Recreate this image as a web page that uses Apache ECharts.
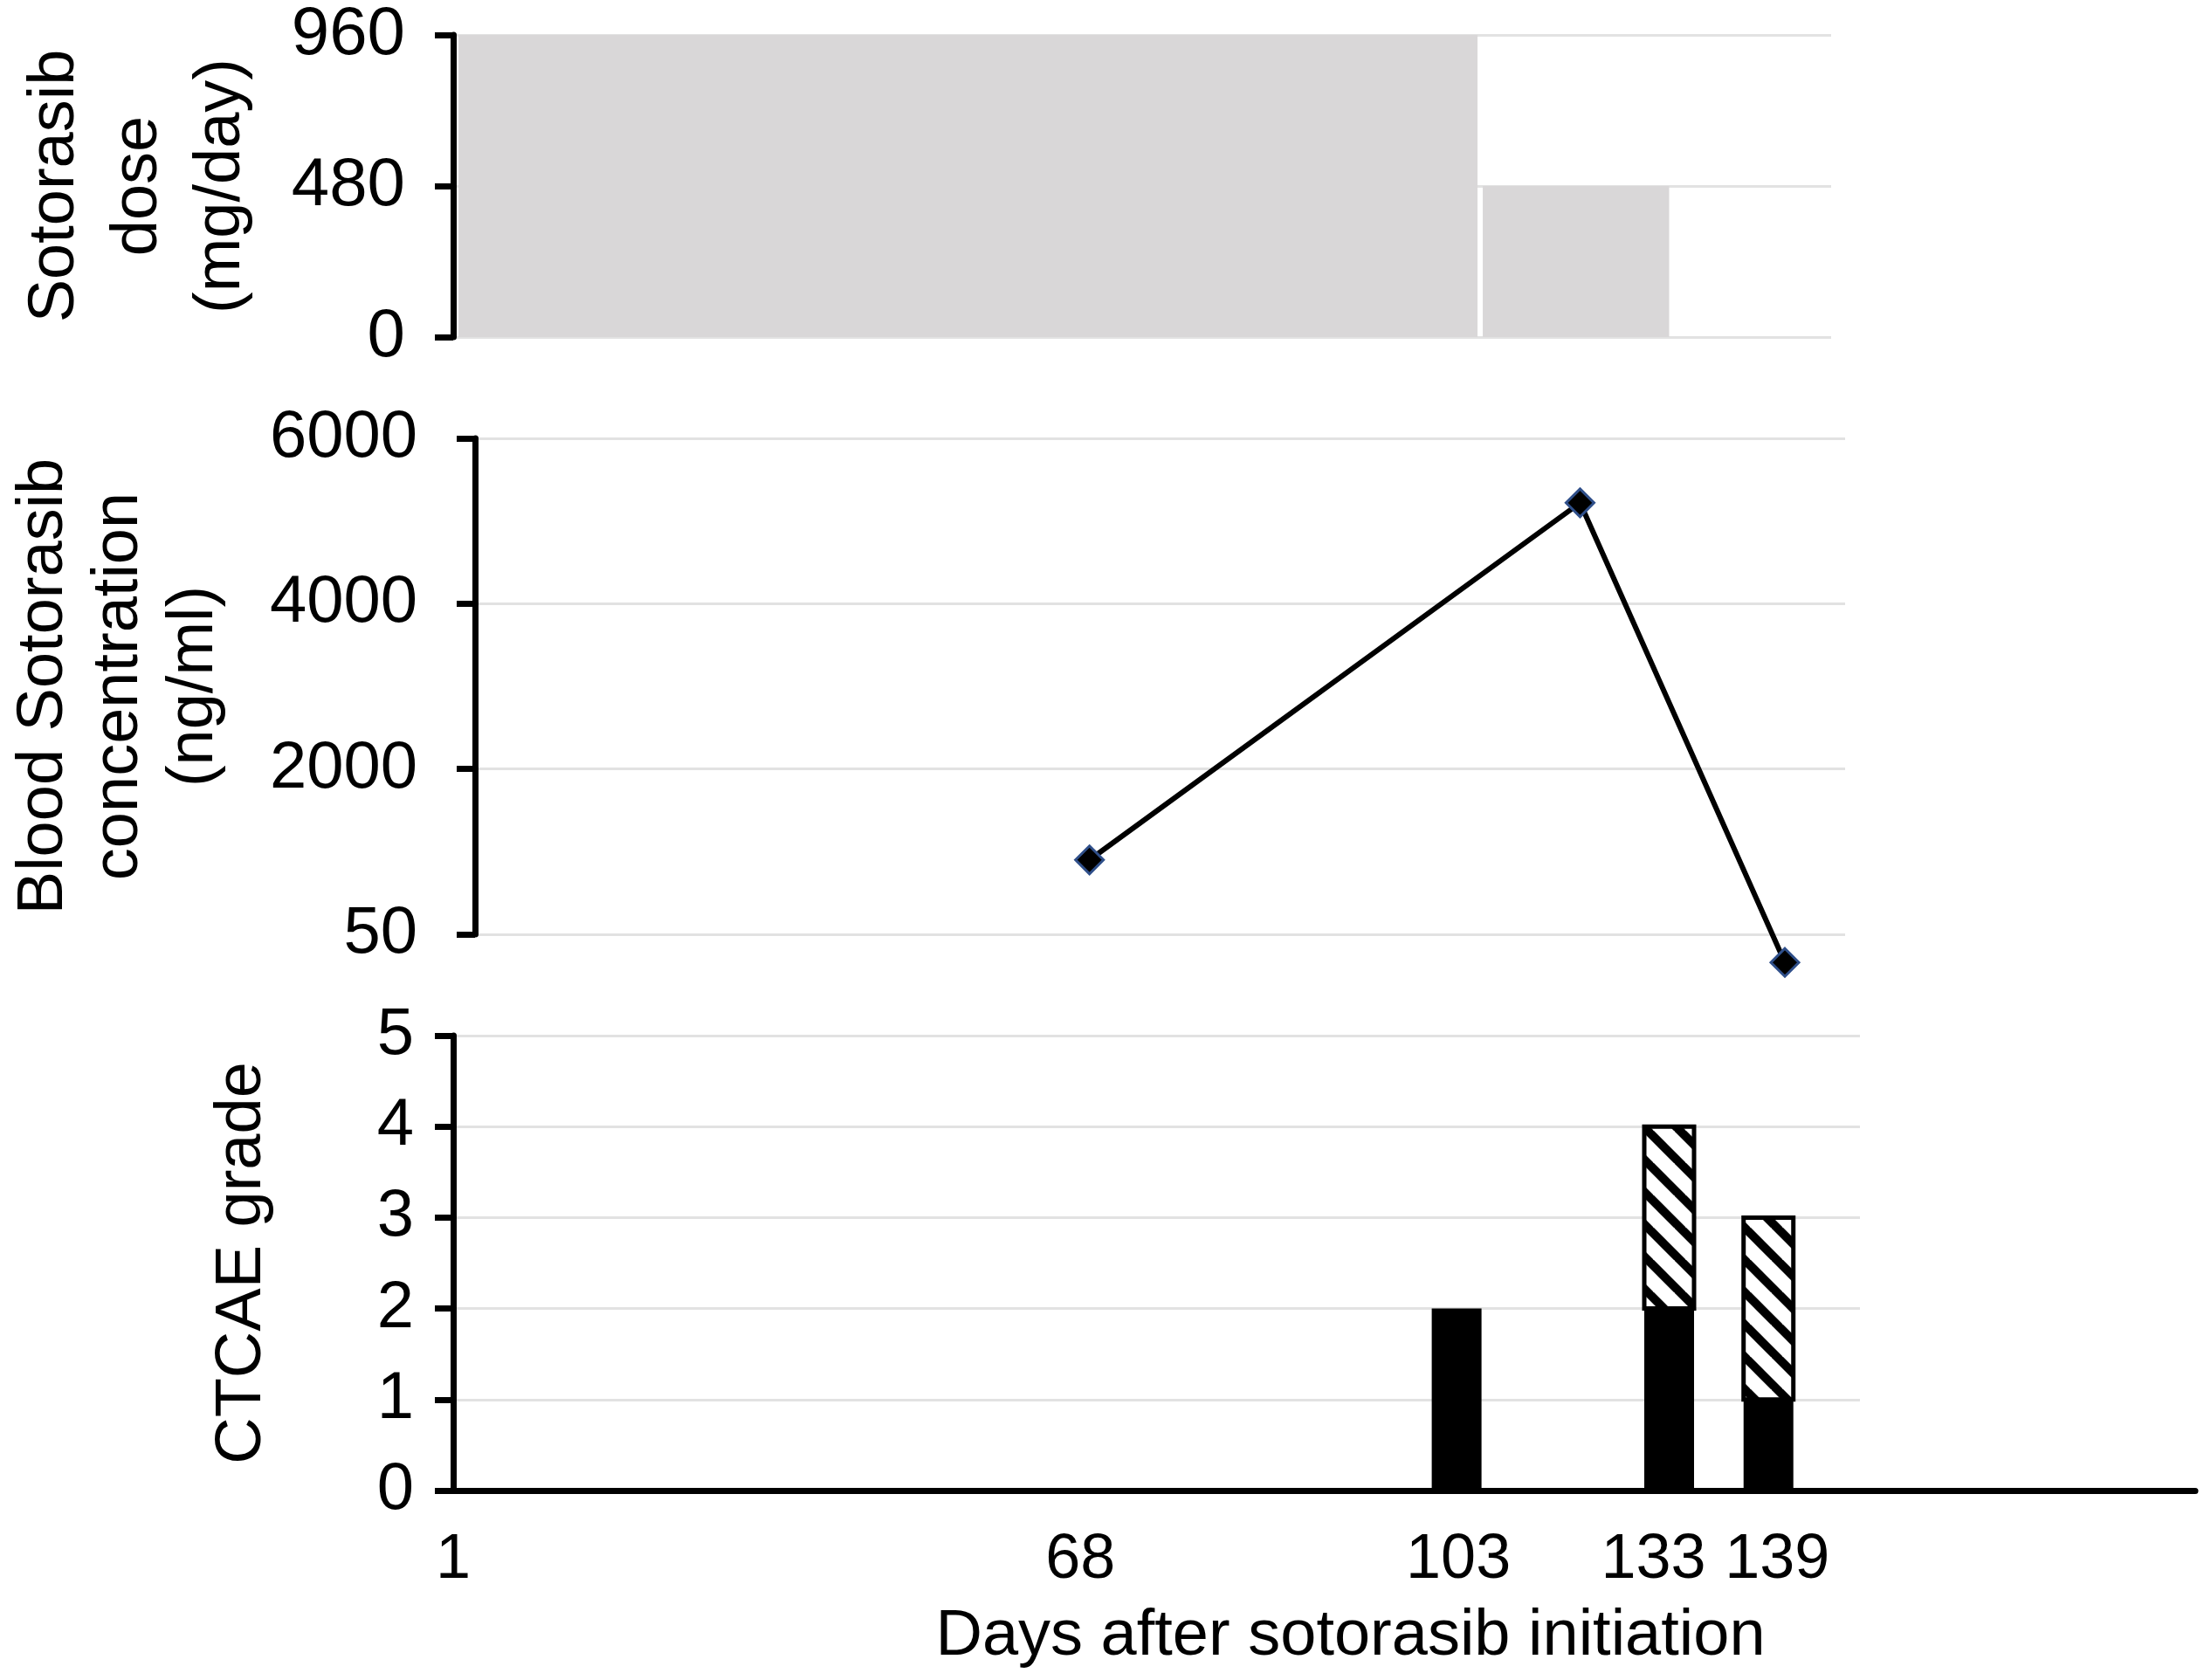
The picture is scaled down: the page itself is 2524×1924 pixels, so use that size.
<!DOCTYPE html>
<html lang="en">
<head>
<meta charset="UTF-8">
<title>Sotorasib dose, concentration and CTCAE grade</title>
<script src="https://cdn.jsdelivr.net/npm/echarts@6/dist/echarts.min.js"></script>
<style>
  html, body { margin: 0; padding: 0; background: #fff; }
  #main { width: 2524px; height: 1924px; }
</style>
</head>
<body>
<div id="main"></div>
<script type="text/javascript">
// the time axis is schematic (not linear in days): 0..100 along the axis,
// day labels sit at these positions
var dayLabels = ['1', '68', '103', '133', '139'];
var dayLabelPos = [0, 36.0, 57.7, 68.9, 76.0];

// dose blocks (start pos, end pos, mg/day)
var doseStartPos = [0, 58.8];
var doseEndPos = [58.8, 69.8];
var doseValues = [960, 480];

// blood sotorasib concentration (ng/ml)
var concPos = [36.0, 64.5, 76.4];
var concValues = [900, 5220, -340];
var concTicks = [0, 2000, 4000, 6000];
var concTickLabels = ['50', '2000', '4000', '6000'];

// CTCAE grade, solid part and hatched part on top of it
var gradePos = [57.6, 69.8, 75.5];
var gradeSolid = [2, 2, 1];
var gradeHatched = [0, 2, 2];

var FONT = 'Liberation Sans, Arial, sans-serif';
var X0 = 519, XU = (2514 - 519) / 100;   // pixel of pos 0, pixels per pos unit
function xr(left, right) {
    return { min: (left - X0) / XU, max: (right - X0) / XU };
}

// hatch tile "\\\"
function hatch() {
    var P = 37;
    var c = document.createElement('canvas');
    c.width = P; c.height = P;
    var ctx = c.getContext('2d');
    ctx.fillStyle = '#fff';
    ctx.fillRect(0, 0, P, P);
    ctx.strokeStyle = '#000';
    ctx.lineWidth = 10;
    for (var k = -1; k <= 1; k++) {
        ctx.beginPath();
        ctx.moveTo(k * P - 3, -3);
        ctx.lineTo(k * P + P + 3, P + 3);
        ctx.stroke();
    }
    return c;
}

// one bar from lo to hi at x pos
function barItem(style) {
    return function (params, api) {
        var lo = api.value(1), hi = api.value(2);
        if (hi <= lo) return null;
        var a = api.coord([api.value(0), hi]);
        var b = api.coord([api.value(0), lo]);
        var w = 57;
        return {
            type: 'rect',
            shape: { x: a[0] - w / 2, y: a[1], width: w, height: b[1] - a[1] },
            style: style
        };
    };
}

var axisBlack = { lineStyle: { color: '#000', width: 7 } };
var tickBlack = { show: true, length: 21, lineStyle: { color: '#000', width: 7 } };
var gridLine = { show: true, lineStyle: { color: '#e2e2e2', width: 3 } };
var nameStyle = { fontFamily: FONT, fontSize: 74, color: '#000' };

var r0 = xr(509, 2097), r1 = xr(525, 2113), r3 = xr(519, 2130);

var chart = echarts.init(document.getElementById('main'));
var option = {
    animation: false,
    backgroundColor: '#fff',
    grid: [
        { left: 509, top: 40, width: 2097 - 509, height: 346 },
        { left: 525, top: 502, width: 2113 - 525, height: 568 },
        { left: 519, top: 1186, width: 2514 - 519, height: 521 },
        { left: 519, top: 1186, width: 2130 - 519, height: 521 }
    ],
    xAxis: [
        { gridIndex: 0, type: 'value', min: r0.min, max: r0.max, show: false },
        { gridIndex: 1, type: 'value', min: r1.min, max: r1.max, show: false },
        {
            gridIndex: 2, type: 'value', min: 0, max: 100,
            axisLine: { lineStyle: { color: '#000', width: 7 } },
            axisTick: { show: false },
            splitLine: { show: false },
            axisLabel: {
                customValues: dayLabelPos,
                formatter: function (v) { return dayLabels[dayLabelPos.indexOf(v)]; },
                fontFamily: FONT, fontSize: 72, color: '#000', margin: 44
            },
            name: 'Days after sotorasib initiation',
            nameLocation: 'middle',
            nameGap: 131,
            nameTextStyle: { fontFamily: FONT, fontSize: 74, color: '#000', padding: [0, 0, 0, 60] }
        },
        { gridIndex: 3, type: 'value', min: r3.min, max: r3.max, show: false }
    ],
    yAxis: [
        {
            gridIndex: 0, type: 'value', min: 0, max: 960, interval: 480,
            axisLine: axisBlack, axisTick: tickBlack, splitLine: gridLine,
            axisLabel: { fontFamily: FONT, fontSize: 78, color: '#000', margin: 45 },
            name: 'Sotorasib\ndose\n(mg/day)',
            nameLocation: 'middle', nameRotate: 90, nameGap: 208,
            nameTextStyle: Object.assign({ lineHeight: 95 }, nameStyle)
        },
        {
            gridIndex: 1, type: 'value', min: 0, max: 6000, interval: 2000,
            axisLine: axisBlack, axisTick: tickBlack, splitLine: gridLine,
            axisLabel: {
                fontFamily: FONT, fontSize: 76, color: '#000', margin: 66,
                formatter: function (v) { return concTickLabels[concTicks.indexOf(v)]; }
            },
            name: 'Blood Sotorasib\nconcentration\n(ng/ml)',
            nameLocation: 'middle', nameRotate: 90, nameGap: 278,
            nameTextStyle: Object.assign({ lineHeight: 86 }, nameStyle)
        },
        {
            gridIndex: 2, type: 'value', min: 0, max: 5, interval: 1,
            axisLine: axisBlack, axisTick: tickBlack, splitLine: { show: false },
            axisLabel: { fontFamily: FONT, fontSize: 76, color: '#000', margin: 45 },
            name: 'CTCAE grade',
            nameLocation: 'middle', nameRotate: 90, nameGap: 198,
            nameTextStyle: Object.assign({ lineHeight: 87 }, nameStyle)
        },
        {
            gridIndex: 3, type: 'value', min: 0, max: 5, interval: 1,
            axisLine: { show: false }, axisTick: { show: false },
            axisLabel: { show: false }, splitLine: gridLine
        }
    ],
    series: [
        {
            type: 'custom',
            xAxisIndex: 0, yAxisIndex: 0,
            data: doseValues.map(function (v, i) { return [doseStartPos[i], doseEndPos[i], v]; }),
            encode: { x: [0, 1], y: 2 },
            renderItem: function (params, api) {
                var a = api.coord([Math.max(api.value(0), r0.min), api.value(2)]);
                var b = api.coord([api.value(1), 0]);
                return {
                    type: 'rect',
                    shape: { x: a[0] + 6, y: a[1], width: b[0] - a[0] - 6, height: b[1] - a[1] },
                    style: { fill: '#d9d7d8' }
                };
            }
        },
        {
            type: 'line',
            xAxisIndex: 1, yAxisIndex: 1,
            clip: false,
            data: concValues.map(function (v, i) { return [concPos[i], v]; }),
            lineStyle: { color: '#000', width: 6 },
            symbol: 'diamond',
            symbolSize: 32,
            itemStyle: { color: '#000', borderColor: '#2f4f8a', borderWidth: 3 },
            z: 5
        },
        {
            type: 'custom',
            xAxisIndex: 2, yAxisIndex: 2,
            data: gradeSolid.map(function (v, i) { return [gradePos[i], 0, v]; }),
            encode: { x: 0, y: [1, 2] },
            renderItem: barItem({ fill: '#000' }),
            z: 3
        },
        {
            type: 'custom',
            xAxisIndex: 2, yAxisIndex: 2,
            data: gradeHatched.map(function (v, i) {
                return [gradePos[i], gradeSolid[i], gradeSolid[i] + v];
            }),
            encode: { x: 0, y: [1, 2] },
            renderItem: barItem({
                fill: { image: hatch(), repeat: 'repeat' },
                stroke: '#000', lineWidth: 5
            }),
            z: 3
        }
    ]
};
chart.setOption(option);
</script>
</body>
</html>
